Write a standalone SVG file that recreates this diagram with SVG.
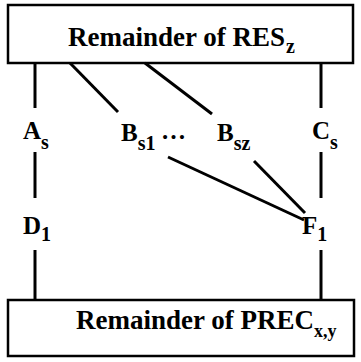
<svg xmlns="http://www.w3.org/2000/svg" width="361" height="362" viewBox="0 0 361 362">
<style>
.box{fill:#fff;stroke:#000;stroke-width:2.5}
.t{font-family:'Liberation Serif','DejaVu Serif',serif;font-weight:bold;fill:#000}
.big{font-size:27px}
.lab{font-size:25px}
.sub{font-size:20px}
.c line{stroke:#000;stroke-width:3;stroke-linecap:butt}
</style>
<rect width="361" height="362" fill="#fff"/>
<g id="res">
<rect class="box" x="8" y="5" width="345" height="58"/>
<text class="t big" x="68" y="46">Remainder of RES<tspan class="sub" dx="1" dy="7">z</tspan></text>
</g>
<g id="prec">
<rect class="box" x="8" y="300" width="346" height="56"/>
<text class="t big" x="76" y="329">Remainder of PREC<tspan class="sub" dy="8" style="font-size:18px">x,y</tspan></text>
</g>
<g id="As"><text class="t lab" x="23" y="139">A<tspan class="sub" dy="10">s</tspan></text></g>
<g id="Bs1"><text class="t lab" x="121" y="141">B<tspan class="sub" dy="9">s1</tspan></text></g>
<g id="dots"><text class="t lab" x="161" y="139">…</text></g>
<g id="Bsz"><text class="t lab" x="217" y="141">B<tspan class="sub" dy="9">sz</tspan></text></g>
<g id="Cs"><text class="t lab" x="312" y="139">C<tspan class="sub" dy="10">s</tspan></text></g>
<g id="D1"><text class="t lab" x="23" y="234">D<tspan class="sub" dy="7">1</tspan></text></g>
<g id="F1"><text class="t lab" x="302" y="234">F<tspan class="sub" dy="7">1</tspan></text></g>
<g class="c" id="connectors">
<line x1="35" y1="63" x2="35" y2="108"/>
<line x1="35" y1="152" x2="35" y2="198"/>
<line x1="35" y1="250" x2="35" y2="300"/>
<line x1="321" y1="63" x2="321" y2="108"/>
<line x1="321" y1="152" x2="321" y2="198"/>
<line x1="321" y1="250" x2="321" y2="300"/>
<line x1="70" y1="63" x2="118" y2="112"/>
<line x1="145" y1="63" x2="212" y2="114"/>
<line x1="168" y1="157" x2="304" y2="220"/>
<line x1="254" y1="161" x2="305" y2="213"/>
</g>
</svg>
